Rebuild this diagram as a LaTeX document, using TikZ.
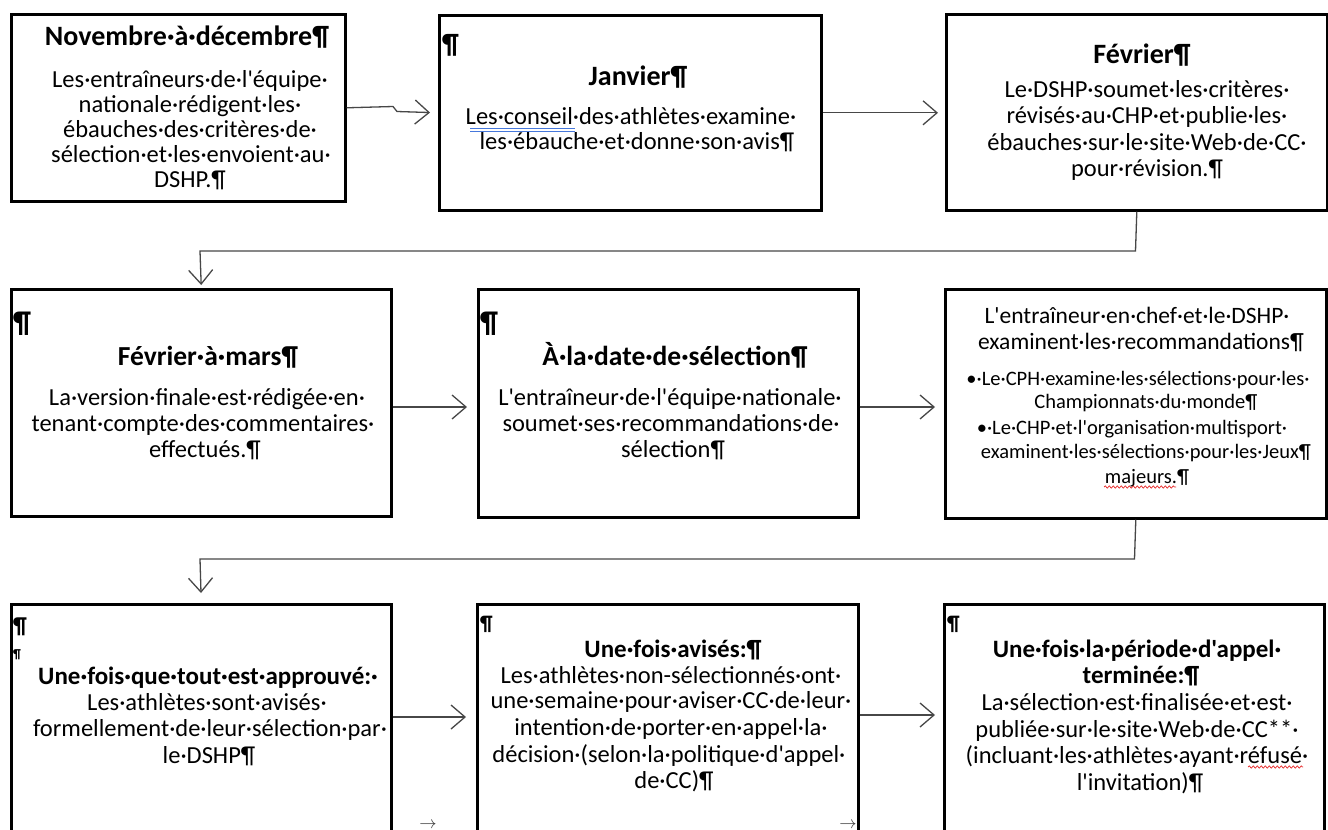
\documentclass[tikz,border=0pt]{standalone}
\usepackage{fontspec}
\newfontfamily\calib{Carlito}
\usetikzlibrary{arrows.meta,decorations.pathmorphing}
\definecolor{spellblue}{RGB}{70,120,220}
\definecolor{spellred}{RGB}{230,40,40}
\tikzset{
  boxnode/.style={draw=black, line width=2.6pt, anchor=north west, inner sep=0pt},
  conn/.style={draw=black!72, line width=1.3pt, -{Straight Barb[length=14pt,width=24pt,line width=1.3pt]}},
  tt/.style={font=\calib\bfseries\fontsize{#1}{#1}\selectfont, anchor=base, inner sep=0pt},
  bd/.style={font=\calib\fontsize{#1}{#1}\selectfont, anchor=base, inner sep=0pt},
  tt/.default=28,
  bd/.default=24.5,
  pil/.style={font=\calib\bfseries\fontsize{#1}{#1}\selectfont, anchor=base west, inner sep=0pt},
  spell/.style={draw=spellred, line width=0.7pt, decorate, decoration={snake, amplitude=1.1pt, segment length=4pt}},
  tinyarrow/.style={font=\fontsize{18}{18}\selectfont, text=black!80, inner sep=0pt, anchor=base}
}
\begin{document}
\begin{tikzpicture}[x=1pt,y=-1pt]
\useasboundingbox (0,0) rectangle (1328,830);
\clip (0,0) rectangle (1328,830);
\fill[white] (0,0) rectangle (1328,830);

% ---------- boxes ----------
\node[boxnode, minimum width=334pt, minimum height=187pt] (b1) at (10,13) {};
\node[boxnode, minimum width=382pt, minimum height=195pt] (b2) at (438,14) {};
\node[boxnode, minimum width=381pt, minimum height=196pt] (b3) at (945,13) {};
\node[boxnode, minimum width=380pt, minimum height=227pt] (b4) at (10,288) {};
\node[boxnode, minimum width=380pt, minimum height=228pt] (b5) at (477,288) {};
\node[boxnode, minimum width=381pt, minimum height=229pt] (b6) at (944,288) {};
\node[boxnode, minimum width=380pt, minimum height=240pt] (b7) at (10,603) {};
\node[boxnode, minimum width=381pt, minimum height=240pt] (b8) at (476,603) {};
\node[boxnode, minimum width=380pt, minimum height=240pt] (b9) at (943,603) {};

% ---------- box 1 ----------
\node[tt] (t1) at (187,45) {Novembre·à·décembre¶};
\node[bd] (l1a) at (190,87) {Les·entraîneurs·de·l'équipe·};
\node[bd] (l1b) at (190,112) {nationale·rédigent·les·};
\node[bd] (l1c) at (190,137) {ébauches·des·critères·de·};
\node[bd] (l1d) at (191,162) {sélection·et·les·envoient·au·};
\node[bd] (l1e) at (190,187) {DSHP.¶};

% ---------- box 2 ----------
\node[pil=28] (p2) at (442,53) {¶};
\node[tt] (t2) at (638,85) {Janvier¶};
\node[bd] (l2a) at (631,124) {Les·conseil·des·athlètes·examine·};
\node[bd] (l2b) at (637,149) {les·ébauche·et·donne·son·avis¶};
\draw[spellblue, line width=0.7pt] (470,128) -- (575,128);
\draw[spellblue, line width=0.7pt] (470,131) -- (575,131);

% ---------- box 3 ----------
\node[tt] (t3) at (1142,63) {Février¶};
\node[bd] (l3a) at (1147,97) {Le·DSHP·soumet·les·critères·};
\node[bd] (l3b) at (1147,123) {révisés·au·CHP·et·publie·les·};
\node[bd] (l3c) at (1147,150) {ébauches·sur·le·site·Web·de·CC·};
\node[bd] (l3d) at (1147,176) {pour·révision.¶};

% ---------- box 4 ----------
\node[pil=30] (p4) at (13,332) {¶};
\node[tt=27.5] (t4) at (208,365) {Février·à·mars¶};
\node[bd] (l4a) at (207,405) {La·version·finale·est·rédigée·en·};
\node[bd] (l4b) at (203,431) {tenant·compte·des·commentaires·};
\node[bd] (l4c) at (205,457) {effectués.¶};

% ---------- box 5 ----------
\node[pil=30] (p5) at (480,332) {¶};
\node[tt=27.5] (t5) at (675,365) {À·la·date·de·sélection¶};
\node[bd] (l5a) at (670,405) {L'entraîneur·de·l'équipe·nationale·};
\node[bd] (l5b) at (671,431) {soumet·ses·recommandations·de·};
\node[bd] (l5c) at (673,457) {sélection¶};

% ---------- box 6 ----------
\node[bd=23.5] (l6a) at (1137,323) {L'entraîneur·en·chef·et·le·DSHP·};
\node[bd=23.5] (l6b) at (1141,349) {examinent·les·recommandations¶};
\node[bd=20.5] (l6c) at (1138,385) {•·Le·CPH·examine·les·sélections·pour·les·};
\node[bd=20.5] (l6d) at (1146,408) {Championnats·du·monde¶};
\node[bd=20.5] (l6e) at (1132,434) {•·Le·CHP·et·l'organisation·multisport·};
\node[bd=20.5] (l6f) at (1146,458) {examinent·les·sélections·pour·les·Jeux¶};
\node[bd=20.5] (l6g) at (1147,483) {majeurs.¶};
\draw[spell] (1104,487) -- (1176,487);

% ---------- box 7 ----------
\node[pil=23] (p7a) at (13,633) {¶};
\node[pil=13] (p7b) at (13,658) {¶};
\node[tt=25] (t7) at (208,684) {Une·fois·que·tout·est·approuvé:·};
\node[bd] (l7a) at (207,710) {Les·athlètes·sont·avisés·};
\node[bd] (l7b) at (210,736) {formellement·de·leur·sélection·par·};
\node[bd] (l7c) at (209,763) {le·DSHP¶};

% ---------- box 8 ----------
\node[pil=21] (p8) at (480,630) {¶};
\node[tt=25] (t8) at (673,657) {Une·fois·avisés:¶};
\node[bd] (l8a) at (671,683) {Les·athlètes·non-sélectionnés·ont·};
\node[bd] (l8b) at (671,708) {une·semaine·pour·aviser·CC·de·leur·};
\node[bd] (l8c) at (671,735) {intention·de·porter·en·appel·la·};
\node[bd] (l8d) at (669,762) {décision·(selon·la·politique·d'appel·};
\node[bd] (l8e) at (674,788) {de·CC)¶};

% ---------- box 9 ----------
\node[pil=21] (p9) at (947,630) {¶};
\node[tt=25] (t9a) at (1137,657) {Une·fois·la·période·d'appel·};
\node[tt=25] (t9b) at (1141,683) {terminée:¶};
\node[bd] (l9a) at (1137,710) {La·sélection·est·finalisée·et·est·};
\node[bd] (l9b) at (1137,737) {publiée·sur·le·site·Web·de·CC**·};
\node[bd] (l9c) at (1137,763) {(incluant·les·athlètes·ayant·réfusé·};
\node[bd] (l9d) at (1140,790) {l'invitation)¶};
\draw[spell] (1248,767) -- (1303,767);

% ---------- connectors ----------
\coordinate (j1a) at (393,106.5);
\coordinate (j1b) at (397,111.5);
\draw[conn, shorten >=8pt] (b1.east) -- (j1a) -- (j1b) -- (b2.west);
\draw[conn, shorten >=7pt] (b2.east) -- (b2.east -| b3.west);

\coordinate (k3a) at (1135.5,251);
\coordinate (k3b) at (200,251);
\draw[conn, shorten >=3pt] (b3.south) -- (k3a) -- (k3b) -- (b4.north);

\coordinate (y4) at (0,407);
\draw[conn, shorten >=10pt] (b4.east |- y4) -- (b5.west |- y4);
\draw[conn, shorten >=9pt] (b5.east |- y4) -- (b6.west |- y4);

\coordinate (k6a) at (1134.5,559);
\coordinate (k6b) at (200,559);
\draw[conn, shorten >=10pt] (b6.south) -- (k6a) -- (k6b) -- (b7.north);

\coordinate (y7) at (0,717);
\coordinate (y8) at (0,715);
\draw[conn, shorten >=10pt] (b7.east |- y7) -- (b8.west |- y7);
\draw[conn, shorten >=8pt] (b8.east |- y8) -- (b9.west |- y8);

% small stray arrows at the bottom
\node[tinyarrow] (s1) at (428,828) {$\rightarrow$};
\node[tinyarrow] (s2) at (848,828) {$\rightarrow$};
\end{tikzpicture}
\end{document}
